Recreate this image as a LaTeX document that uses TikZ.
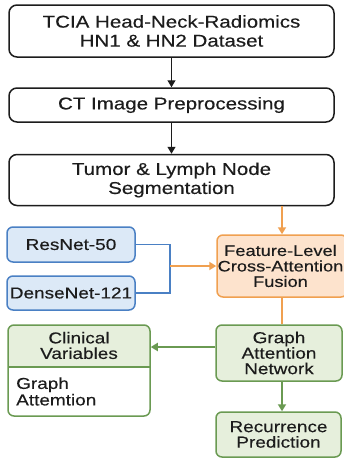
\documentclass[tikz,border=0pt]{standalone}
\usepackage{fontspec}
\setmainfont{Liberation Sans}[FakeStretch=1.2, FakeBold=0.35]
\usetikzlibrary{arrows.meta}
\definecolor{bluefill}{HTML}{DCE9F7}
\definecolor{blueline}{HTML}{4A80C4}
\definecolor{orfill}{HTML}{FDE3CD}
\definecolor{orline}{HTML}{F0A050}
\definecolor{grfill}{HTML}{E6EFDC}
\definecolor{grline}{HTML}{6A9A52}
\definecolor{ink}{HTML}{1C1C1C}
\tikzset{
  topbox/.style={draw=ink, line width=1.5pt, rounded corners=8pt, fill=white,
    minimum width=325pt, align=center, inner sep=0pt, text=ink,
    font=\fontsize{17.1}{19}\selectfont},
  lowfont/.style={font=\fontsize{15.8}{15.5}\selectfont, text=ink, align=center, inner sep=0pt},
  bluebox/.style={lowfont, draw=blueline, fill=bluefill, line width=1.5pt, rounded corners=6pt, minimum width=128pt},
  orbox/.style={lowfont, draw=orline, fill=orfill, line width=1.5pt, rounded corners=6pt},
  grbox/.style={lowfont, draw=grline, fill=grfill, line width=1.5pt, rounded corners=6pt},
  blackarrow/.style={draw=ink, line width=1.4pt, -{Triangle[length=7pt,width=8pt]}},
  orarrow/.style={draw=orline, line width=1.8pt, -{Triangle[length=7pt,width=8pt]}},
  orlink/.style={draw=orline, line width=1.8pt},
  grarrow/.style={draw=grline, line width=1.8pt, -{Triangle[length=7pt,width=8pt]}},
  bluelink/.style={draw=blueline, line width=1.6pt},
}
\begin{document}
\begin{tikzpicture}[x=1pt,y=-1pt]
\useasboundingbox[fill=white] (0,0) rectangle (343,458);

% top column
\node[topbox, minimum height=52pt] (data) at (171.5,31) {TCIA Head-Neck-Radiomics\\HN1 \& HN2 Dataset};
\node[topbox, minimum height=34pt] (prep) at (171.5,105) {CT Image Preprocessing};
\node[topbox, minimum height=51pt] (seg) at (171.5,180) {Tumor \& Lymph Node\\Segmentation};
\draw[blackarrow] (data.south) -- (prep.north);
\draw[blackarrow] (prep.south) -- (seg.north);

% backbones
\node[bluebox, minimum height=35pt] (res) at (71,244.5) {ResNet-50};
\node[bluebox, minimum height=34pt] (dense) at (71,293) {DenseNet-121};

% fusion
\node[orbox, minimum width=130pt, minimum height=62pt] (fus) at (282,266) {};
\node[lowfont, font=\fontsize{15.2}{15.5}\selectfont] (fustext) at (280.5,266) {Feature-Level\\Cross-Attention\\Fusion};
\coordinate (j) at (170,266);
\draw[bluelink] (res.east) -| (j) |- (dense.east);
\draw[orarrow] (j) -- (fus.west);
\draw[orarrow] (seg.south -| fus.north) -- (fus.north);

% graph attention network
\node[grbox, minimum width=126pt, minimum height=56pt] (gat) at (279,353) {Graph\\Attention\\Network};
\draw[orlink] (fus.south) -- (gat.north -| fus.south);

% recurrence
\node[grbox, minimum width=125pt, minimum height=45pt] (rec) at (278.5,434.5) {Recurrence\\Prediction};
\draw[grarrow] (gat.south -| fus.south) -- (rec.north -| fus.south);

% clinical variables box
\begin{scope}
  \clip[rounded corners=6pt] (8,325) rectangle (150,416);
  \fill[white] (8,325) rectangle (150,416);
  \fill[grfill] (8,325) rectangle (150,367);
\end{scope}
\node[draw=grline, line width=1.5pt, rounded corners=6pt, minimum width=142pt, minimum height=91pt, inner sep=0pt] (clin) at (79,370.5) {};
\coordinate (divl) at (8,367);
\coordinate (divr) at (150,367);
\draw[grline, line width=1.3pt] (divl) -- (divr);
\node[lowfont] (cltitle) at (79,345.5) {Clinical\\Variables};
\node[lowfont, align=left, anchor=west, font=\fontsize{15.8}{16.5}\selectfont] (clbody) at (16,391.5) {Graph\\Attemtion};
\draw[grarrow] ([yshift=6pt]gat.west) -- ([yshift=6pt]gat.west -| clin.east);
\end{tikzpicture}
\end{document}
